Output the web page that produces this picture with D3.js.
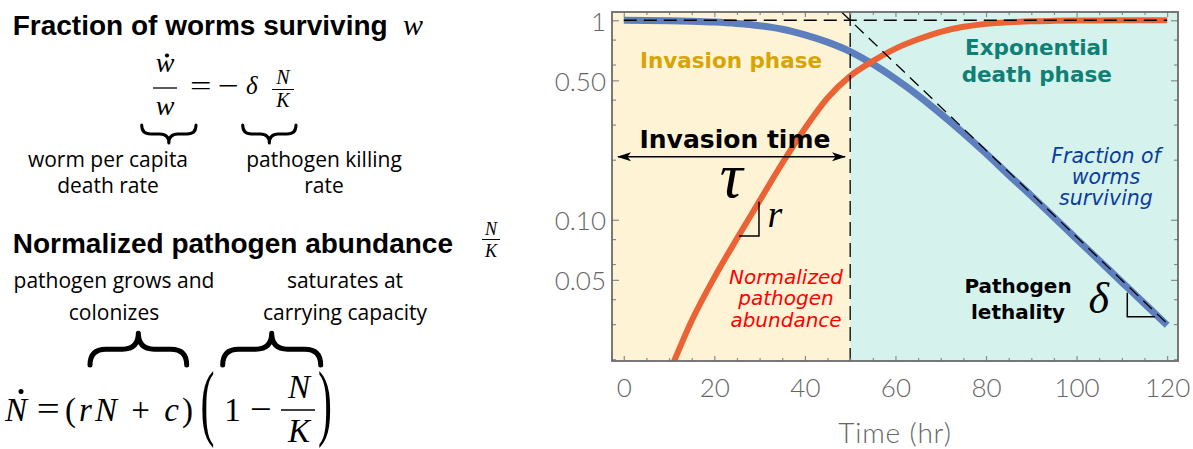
<!DOCTYPE html>
<html><head><meta charset="utf-8">
<script src="https://cdn.jsdelivr.net/npm/d3@7"></script>
<style>
html,body{margin:0;padding:0;background:#fff;}
svg{display:block;}
</style></head>
<body>
<svg id="chart" width="1193" height="449"></svg>
<script>
// ---------------- data ----------------
const timeHr = [0,5,10,15,20,25,30,35,40,45,50,55,60,65,70,75,80,85,90,95,100,105,110,115,120];
const pathogenAbundance = [null,null,0.0170,0.0312,0.0514,0.0805,0.1245,0.192,0.287,0.408,0.525,0.624,0.721,0.803,0.875,0.927,0.959,0.977,0.988,0.993,0.996,0.998,0.999,1.0,1.0];
const wormsSurviving = [1.0,0.998,0.995,0.989,0.979,0.963,0.939,0.902,0.845,0.777,0.697,0.603,0.508,0.420,0.340,0.272,0.215,0.168,0.132,0.103,0.0802,0.0625,0.0487,0.0380,0.0296];
const asymptoteT = [45,120];
const asymptoteV = [1.284,0.0302];
const saturationT = [0,120];
const saturationV = [1,1];
const invasionTime = 50;
const xTickValues = [0,20,40,60,80,100,120];
const xTickLabels = ["0","20","40","60","80","100","120"];
const xMinorTicks = [5,10,15,25,30,35,45,50,55,65,70,75,85,90,95,105,110,115];
const yTickValues = [1,0.5,0.1,0.05];
const yTickLabels = ["1","0.50","0.10","0.05"];
const yMinorTicks = [0.8,0.6,0.4,0.3,0.2,0.08,0.06,0.04,0.03,0.02];
const xDomain = [-2.6,122.4];
const yDomain = [1.1,0.0196];

// ---------------- setup ----------------
const svg = d3.select("#chart");
const L = 612, R = 1178, T = 12, B = 361;
const x = d3.scaleLinear().domain(xDomain).range([L,R]);
const y = d3.scaleLog().domain(yDomain).range([T,B]);

const SERIF = "'Liberation Serif','Times New Roman',serif";
const SANS_B = "'Liberation Sans',Arial,sans-serif";
const SANS = "'Open Sans','DejaVu Sans',sans-serif";
const DV = "'DejaVu Sans',Verdana,sans-serif";
const TICKF = "Lato,'Open Sans',sans-serif";

function txt(g, xx, yy, s, o) {
  o = o || {};
  return g.append("text").attr("x", xx).attr("y", yy).text(s)
    .attr("font-family", o.family || SANS)
    .attr("font-size", o.size || 20)
    .attr("font-style", o.style || "normal")
    .attr("font-weight", o.weight || "normal")
    .attr("text-anchor", o.anchor || "start")
    .attr("fill", o.fill || "#000");
}

const defs = svg.append("defs");
defs.append("clipPath").attr("id","plotclip").append("rect")
  .attr("x",L).attr("y",T).attr("width",R-L).attr("height",B-T);
const mk = defs.append("marker").attr("id","arrowhead").attr("viewBox","0 -5 14 10")
  .attr("refX",13).attr("refY",0).attr("markerWidth",14).attr("markerHeight",10)
  .attr("markerUnits","userSpaceOnUse").attr("orient","auto-start-reverse");
mk.append("path").attr("d","M0,-4.5L14,0L0,4.5L3.5,0Z").attr("fill","#000");

// ---------------- plot ----------------
const plot = svg.append("g").attr("clip-path","url(#plotclip)");
plot.append("rect").attr("x",x(xDomain[0])).attr("y",T).attr("width",x(invasionTime)-x(xDomain[0])).attr("height",B-T).attr("fill","#fff3d6");
plot.append("rect").attr("x",x(invasionTime)).attr("y",T).attr("width",x(xDomain[1])-x(invasionTime)).attr("height",B-T).attr("fill","#d6f2ec");

const line = d3.line().defined(d => d.v != null).x(d => x(d.t)).y(d => y(d.v)).curve(d3.curveMonotoneX);
const blueData = timeHr.map((t,i) => ({t, v: wormsSurviving[i]}));
const orangeData = timeHr.map((t,i) => ({t, v: pathogenAbundance[i]}));

plot.append("path").attr("d", line(blueData)).attr("fill","none").attr("stroke","#5d7fbd").attr("stroke-width",7);
plot.append("path").attr("d", line(orangeData)).attr("fill","none").attr("stroke","#eb6234").attr("stroke-width",6);

const straight = d3.line().x(d => x(d.t)).y(d => y(d.v));
plot.append("path").attr("d", straight(saturationT.map((t,i)=>({t,v:saturationV[i]}))))
  .attr("fill","none").attr("stroke","#000").attr("stroke-width",1.3).attr("stroke-dasharray","13,7");
plot.append("path").attr("d", straight(asymptoteT.map((t,i)=>({t,v:asymptoteV[i]}))))
  .attr("fill","none").attr("stroke","#000").attr("stroke-width",1.3).attr("stroke-dasharray","12,7");
plot.append("line").attr("x1",x(invasionTime)).attr("x2",x(invasionTime)).attr("y1",T).attr("y2",B)
  .attr("stroke","#000").attr("stroke-width",1.3).attr("stroke-dasharray","14,7");

// annotations
const ann = svg.append("g");
txt(ann, x(23.68), y(0.576), "Invasion phase", {family:DV, weight:"bold", size:21.5, anchor:"middle", fill:"#d6a500"});
const ex = txt(ann, x(91.2), y(0.670), "", {family:DV, weight:"bold", size:21.5, anchor:"middle", fill:"#0f8075"});
ex.append("tspan").attr("x", x(91.2)).text("Exponential");
ex.append("tspan").attr("x", x(91.2)).attr("dy", 27).text("death phase");
txt(ann, x(24.56), y(0.229), "Invasion time", {family:DV, weight:"bold", size:25, anchor:"middle"});
ann.append("line").attr("x1",x(-1.27)).attr("x2",x(48.86)).attr("y1",y(0.207)).attr("y2",y(0.207))
  .attr("stroke","#000").attr("stroke-width",1.5)
  .attr("marker-start","url(#arrowhead)").attr("marker-end","url(#arrowhead)");
txt(ann, x(23.7), y(0.130), "τ", {family:SERIF, style:"italic", size:64, anchor:"middle"});
ann.append("path").attr("d", d3.line()([[x(29.86),y(0.1232)],[x(29.86),y(0.0829)],[x(25.45),y(0.0829)]]))
  .attr("fill","none").attr("stroke","#000").attr("stroke-width",1.5);
txt(ann, x(33.35), y(0.0923), "r", {family:SERIF, style:"italic", size:38, anchor:"middle"});
const np = txt(ann, x(35.83), y(0.0476), "", {family:DV, style:"italic", size:20, anchor:"middle", fill:"#ff0000"});
["Normalized","pathogen","abundance"].forEach((s,i)=>np.append("tspan").attr("x",x(35.83)).attr("dy", i?21.3:0).text(s));
const fw = txt(ann, x(106.5), y(0.1919), "", {family:DV, style:"italic", size:20.5, anchor:"middle", fill:"#0a3ca0"});
["Fraction of","worms","surviving"].forEach((s,i)=>fw.append("tspan").attr("x",x(106.5)).attr("dy", i?20.8:0).text(s));
const pl = txt(ann, x(87.07), y(0.0431), "", {family:DV, weight:"bold", size:20, anchor:"middle"});
["Pathogen","lethality"].forEach((s,i)=>pl.append("tspan").attr("x",x(87.07)).attr("dy", i?26.6:0).text(s));
txt(ann, x(104.9), y(0.0341), "δ", {family:SERIF, style:"italic", size:44, anchor:"middle"});
ann.append("path").attr("d", d3.line()([[x(111.2),y(0.0431)],[x(111.2),y(0.0327)],[x(117.3),y(0.0327)]]))
  .attr("fill","none").attr("stroke","#000").attr("stroke-width",1.5);

// frame & axes
function styleAxis(g) {
  g.select(".domain").remove();
  g.selectAll(".tick line").attr("stroke","#8a8a8a").attr("stroke-width",1.2);
  g.attr("font-family", TICKF).attr("font-size", 26).attr("font-weight",300);
  g.selectAll(".tick text").attr("fill","#666");
}
svg.append("g").attr("transform",`translate(0,${B})`)
  .call(d3.axisBottom(x).tickValues(xTickValues).tickSize(-5).tickPadding(17.5).tickFormat((d,i)=>xTickLabels[i])).call(styleAxis);
svg.append("g").attr("transform",`translate(0,${B})`)
  .call(d3.axisBottom(x).tickValues(xMinorTicks).tickSize(-3).tickFormat("")).call(styleAxis);
svg.append("g").attr("transform",`translate(0,${T})`)
  .call(d3.axisTop(x).tickValues(xTickValues).tickSize(-5).tickFormat("")).call(styleAxis);
svg.append("g").attr("transform",`translate(0,${T})`)
  .call(d3.axisTop(x).tickValues(xMinorTicks).tickSize(-3).tickFormat("")).call(styleAxis);
const yl = svg.append("g").attr("transform",`translate(${L},0)`)
  .call(d3.axisLeft(y).tickValues(yTickValues).tickSize(-7).tickPadding(6).tickFormat((d,i)=>yTickLabels[i])).call(styleAxis);
yl.selectAll(".tick text").attr("dy","0.38em");
svg.append("g").attr("transform",`translate(${L},0)`)
  .call(d3.axisLeft(y).tickValues(yMinorTicks).tickSize(-4).tickFormat("")).call(styleAxis);
svg.append("g").attr("transform",`translate(${R},0)`)
  .call(d3.axisRight(y).tickValues(yTickValues).tickSize(-7).tickFormat("")).call(styleAxis);
svg.append("g").attr("transform",`translate(${R},0)`)
  .call(d3.axisRight(y).tickValues(yMinorTicks).tickSize(-4).tickFormat("")).call(styleAxis);
svg.append("rect").attr("x",L).attr("y",T).attr("width",R-L).attr("height",B-T)
  .attr("fill","none").attr("stroke","#6b6b6b").attr("stroke-width",1.8);
txt(svg, (L+R)/2, 443, "Time (hr)", {family:TICKF, size:28, weight:300, anchor:"middle", fill:"#666"}).attr("letter-spacing", 0.8);

// ---------------- left panel ----------------
const lp = svg.append("g");
function brace(x1, x2, yEnd, yTip, sw) {
  const ym = (yEnd + yTip) / 2, xm = (x1 + x2) / 2, q = Math.abs(yTip - yEnd) / 2;
  const p = `M${x1},${yEnd} Q${x1},${ym} ${x1+q},${ym} L${xm-q},${ym} Q${xm},${ym} ${xm},${yTip} Q${xm},${ym} ${xm+q},${ym} L${x2-q},${ym} Q${x2},${ym} ${x2},${yEnd}`;
  lp.append("path").attr("d", p).attr("fill","none").attr("stroke","#000").attr("stroke-width",sw).attr("stroke-linecap","round").attr("stroke-linejoin","round");
}
function bar(x1, x2, yy, w) {
  lp.append("line").attr("x1",x1).attr("x2",x2).attr("y1",yy).attr("y2",yy).attr("stroke","#000").attr("stroke-width",w);
}
function bigParen(xc, base, s) {
  lp.append("text").attr("transform",`translate(${xc},${base}) scale(0.5,1)`).attr("text-anchor","middle")
    .attr("font-family",SERIF).attr("font-size",84).text(s);
}

txt(lp, 12.7, 35, "Fraction of worms surviving", {family:SANS_B, weight:"bold", size:28});
txt(lp, 403, 35, "w", {family:SERIF, style:"italic", size:30});

// eq 1
txt(lp, 165, 71.7, "w", {family:SERIF, style:"italic", size:28, anchor:"middle"});
lp.append("circle").attr("cx",167).attr("cy",55.5).attr("r",2.1).attr("fill","#000");
bar(153, 177, 88, 1.3);
txt(lp, 165, 115, "w", {family:SERIF, style:"italic", size:28, anchor:"middle"});
txt(lp, 190, 95, "=", {family:SERIF, size:28}).attr("textLength",21.5).attr("lengthAdjust","spacingAndGlyphs");
txt(lp, 218, 95, "−", {family:SERIF, size:28}).attr("textLength",21).attr("lengthAdjust","spacingAndGlyphs");
txt(lp, 246, 94, "δ", {family:SERIF, style:"italic", size:25});
txt(lp, 283, 84, "N", {family:SERIF, style:"italic", size:20, anchor:"middle"});
bar(272, 294, 89.5, 1);
txt(lp, 283, 106.5, "K", {family:SERIF, style:"italic", size:20, anchor:"middle"});
brace(141.7, 196, 125, 143, 3);
brace(242.7, 296, 125, 143, 3);
txt(lp, 108, 166.7, "worm per capita", {size:21, anchor:"middle"});
txt(lp, 108, 193, "death rate", {size:21, anchor:"middle"});
txt(lp, 324, 166.7, "pathogen killing", {size:21, anchor:"middle"});
txt(lp, 324, 193, "rate", {size:21, anchor:"middle"});

// title 2
txt(lp, 12.7, 253.3, "Normalized pathogen abundance", {family:SANS_B, weight:"bold", size:28});
txt(lp, 491, 235, "N", {family:SERIF, style:"italic", size:18, anchor:"middle"});
bar(482, 500, 239.5, 1);
txt(lp, 491, 256.5, "K", {family:SERIF, style:"italic", size:18, anchor:"middle"});
txt(lp, 114, 288.3, "pathogen grows and", {size:21, anchor:"middle"});
txt(lp, 114, 320, "colonizes", {size:21, anchor:"middle"});
txt(lp, 345, 288.3, "saturates at", {size:21, anchor:"middle"});
txt(lp, 345, 320, "carrying capacity", {size:21, anchor:"middle"});
brace(90, 186.7, 365, 333.3, 5);
brace(222.7, 320.7, 365, 333.3, 5);

// eq 2
txt(lp, 5, 420.7, "N", {family:SERIF, style:"italic", size:33});
lp.append("circle").attr("cx",21).attr("cy",391.5).attr("r",2.5).attr("fill","#000");
txt(lp, 36.7, 420, "=", {family:SERIF, size:33}).attr("textLength",23).attr("lengthAdjust","spacingAndGlyphs");
const rn = txt(lp, 65, 420.7, "", {family:SERIF, size:33}).attr("textLength",128).attr("lengthAdjust","spacing");
rn.append("tspan").text("(");
rn.append("tspan").attr("font-style","italic").text("rN");
rn.append("tspan").text(" + ");
rn.append("tspan").attr("font-style","italic").text("c");
rn.append("tspan").text(")");
bigParen(207.5, 430, "(");
txt(lp, 232.5, 420.7, "1", {family:SERIF, size:33, anchor:"middle"});
txt(lp, 250, 420, "−", {family:SERIF, size:33}).attr("textLength",21.7).attr("lengthAdjust","spacingAndGlyphs");
txt(lp, 299, 398.3, "N", {family:SERIF, style:"italic", size:33, anchor:"middle"});
bar(281, 315, 410, 1.5);
txt(lp, 299, 441.7, "K", {family:SERIF, style:"italic", size:33, anchor:"middle"});
bigParen(325, 430, ")");
</script>
</body></html>
